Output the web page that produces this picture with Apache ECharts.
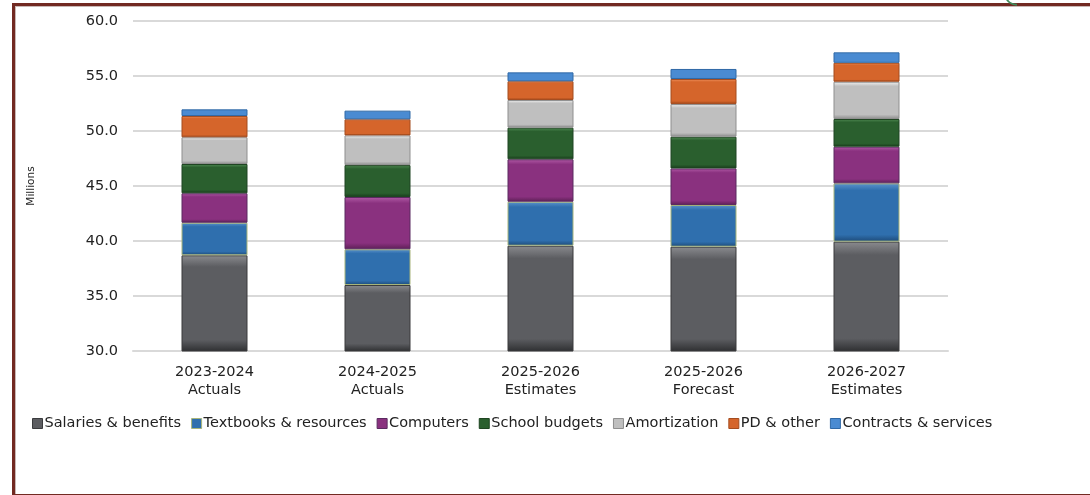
<!DOCTYPE html>
<html>
<head>
<meta charset="utf-8">
<script src="https://cdn.jsdelivr.net/npm/echarts@6/dist/echarts.min.js"></script>
<style>
  html, body { margin: 0; padding: 0; background: #fff; }
  #frame { position: absolute; left: 12px; top: 3px; width: 1090px; height: 488px;
           border-left: 3px solid #722a22; border-top: 3px solid #722a22; border-bottom: 3px solid #722a22;
           box-shadow: inset 1px 1px 0 #c9b8b5; }
  #chart { position: absolute; left: 0; top: 0; width: 1090px; height: 495px; }
</style>
</head>
<body>
<div id="frame"></div>
<div id="chart"></div>
<script>
const categories = ['2023-2024\nActuals', '2024-2025\nActuals', '2025-2026\nEstimates', '2025-2026\nForecast', '2026-2027\nEstimates'];
const yTicks = { min: 30, max: 60, interval: 5 };

const salaries  = [38.70, 36.00, 39.57, 39.48, 39.94];
const textbooks = [2.96, 3.25, 4.00, 3.79, 5.30];
const computers = [2.68, 4.75, 3.86, 3.33, 3.33];
const schools   = [2.66, 2.90, 2.87, 2.88, 2.52];
const amortization = [2.43, 2.70, 2.52, 2.97, 3.39];
const pdOther   = [1.93, 1.46, 1.70, 2.28, 1.72];
const contracts = [0.61, 0.79, 0.81, 0.91, 0.95];

const seriesDefs = [
  { name: 'Salaries & benefits',    data: salaries,     color: '#5c5d61', light: '#8a8b8f', dark: '#2e2f31', border: '#3a3b3d' },
  { name: 'Textbooks & resources',  data: textbooks,    color: '#2f6fae', light: '#5b93cc', dark: '#1d4a78', border: '#a7b47a' },
  { name: 'Computers',              data: computers,    color: '#8a317f', light: '#b15aa6', dark: '#5c1f55', border: '#5a2a60' },
  { name: 'School budgets',         data: schools,      color: '#2a5f2e', light: '#4f8a52', dark: '#183b1b', border: '#1f4522' },
  { name: 'Amortization',           data: amortization, color: '#bfbfbf', light: '#f2f2f2', dark: '#8c8c8c', border: '#8f8f8f' },
  { name: 'PD & other',             data: pdOther,      color: '#d5652b', light: '#f0925e', dark: '#9a4418', border: '#a44c1f' },
  { name: 'Contracts & services',   data: contracts,    color: '#4a8bd2', light: '#7fb2e8', dark: '#2b5f99', border: '#2f68a6' }
];

// vertical gradient giving each segment a lit top edge and a shaded bottom edge
function bevel(d) {
  return {
    type: 'linear', x: 0, y: 0, x2: 0, y2: 1,
    colorStops: [
      { offset: 0, color: d.light },
      { offset: 0.12, color: d.color },
      { offset: 0.88, color: d.color },
      { offset: 1, color: d.dark }
    ]
  };
}

const font = '"DejaVu Sans", Lato, sans-serif';
const chart = echarts.init(document.getElementById('chart'), null, { renderer: 'canvas' });

chart.setOption({
  animation: false,
  backgroundColor: 'transparent',
  textStyle: { fontFamily: font },
  grid: { left: 133, right: 142, top: 21, bottom: 144 },
  legend: {
    left: 27, top: 411,
    itemWidth: 10, itemHeight: 10, itemGap: 10,
    icon: 'rect',
    textStyle: { fontFamily: font, fontSize: 14.5, color: '#222', padding: [0, 0, 0, -3] },
    data: seriesDefs.map(d => ({ name: d.name, itemStyle: { color: d.color, borderColor: d.border, borderWidth: 1 } }))
  },
  graphic: [{
    type: 'arc', left: 1003, top: -6,
    shape: { cx: 12, cy: 0, r: 12, startAngle: Math.PI * 0.5, endAngle: Math.PI * 0.9 },
    style: { stroke: '#3f8a5a', lineWidth: 2, fill: null }
  }],
  xAxis: {
    type: 'category',
    data: categories,
    axisTick: { show: false },
    axisLine: { lineStyle: { color: '#d9d9d9', width: 2 } },
    axisLabel: { fontFamily: font, fontSize: 14.5, color: '#222', lineHeight: 18, margin: 12 }
  },
  yAxis: {
    type: 'value',
    min: yTicks.min, max: yTicks.max, interval: yTicks.interval,
    name: 'Millions',
    nameLocation: 'middle',
    nameGap: 96,
    nameRotate: 90,
    nameTextStyle: { fontFamily: font, fontSize: 10.5, color: '#222' },
    axisLine: { show: false },
    axisTick: { show: false },
    splitLine: { lineStyle: { color: '#d9d9d9', width: 2 } },
    axisLabel: { fontFamily: font, fontSize: 14.5, color: '#222', margin: 15, formatter: v => v.toFixed(1) }
  },
  series: seriesDefs.map(d => ({
    name: d.name,
    type: 'bar',
    stack: 'total',
    barWidth: 66,
    data: d.data,
    itemStyle: { color: bevel(d), borderColor: d.border, borderWidth: 1 },
    emphasis: { disabled: true }
  }))
});
</script>
</body>
</html>
